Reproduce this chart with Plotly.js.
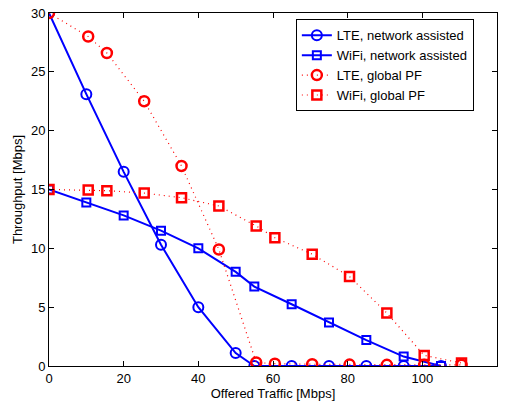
<!DOCTYPE html>
<html>
<head>
<meta charset="utf-8">
<script src="https://cdn.plot.ly/plotly-3.0.1.min.js"></script>
<style>html,body{margin:0;padding:0;background:#fff;}#chart{width:507px;height:405px;}</style>
</head>
<body>
<div id="chart"></div>
<script>
const lteNaX = [0, 10, 20, 30, 40, 50, 55, 65, 75, 85, 95, 105];
const lteNaY = [30, 23.1, 16.5, 10.3, 5.0, 1.1, 0, 0, 0, 0, 0, 0];
const wifiNaX = [0, 10, 20, 30, 40, 50, 55, 65, 75, 85, 95, 105];
const wifiNaY = [15, 13.9, 12.8, 11.5, 10.0, 8.0, 6.75, 5.25, 3.7, 2.2, 0.8, 0];
const pfX = [0, 10.5, 15.5, 25.5, 35.5, 45.5, 55.5, 60.5, 70.5, 80.5, 90.5, 100.5, 110.5];
const ltePfY = [30, 28.0, 26.6, 22.5, 17.0, 9.9, 0.3, 0.2, 0.15, 0.12, 0.1, 0.1, 0.1];
const wifiPfY = [15, 14.95, 14.9, 14.7, 14.3, 13.6, 11.9, 10.9, 9.5, 7.6, 4.5, 0.9, 0.25];
const names = ['LTE, network assisted', 'WiFi, network assisted', 'LTE, global PF', 'WiFi, global PF'];

const blue = '#0000ff', red = '#ff0000';
const FONT = 'Liberation Sans, Arial, Helvetica, sans-serif';
const traces = [
  {x: lteNaX, y: lteNaY, name: names[0], mode: 'lines+markers',
   line: {color: blue, width: 2},
   marker: {symbol: 'circle-open', size: 10, color: blue, line: {width: 2, color: blue}}},
  {x: wifiNaX, y: wifiNaY, name: names[1], mode: 'lines+markers',
   line: {color: blue, width: 2},
   marker: {symbol: 'square-open', size: 8, color: blue, line: {width: 2, color: blue}}},
  {x: pfX, y: ltePfY, name: names[2], mode: 'lines+markers',
   line: {color: red, width: 1.2, dash: '1px,4px'},
   marker: {symbol: 'circle-open', size: 10, color: red, line: {width: 2.5, color: red}}},
  {x: pfX, y: wifiPfY, name: names[3], mode: 'lines+markers',
   line: {color: red, width: 1.2, dash: '1px,4px'},
   marker: {symbol: 'square-open', size: 9, color: red, line: {width: 2.5, color: red}}}
];

const axisCommon = {
  showline: true, linecolor: '#000', linewidth: 1, mirror: 'ticks',
  ticks: 'inside', ticklen: 5, tickcolor: '#000', tickwidth: 1,
  showgrid: false, zeroline: false,
  tickfont: {family: FONT, size: 13, color: '#000'}
};

const layout = {
  width: 507, height: 405,
  margin: {l: 49, r: 10, t: 13, b: 39},
  paper_bgcolor: '#fff', plot_bgcolor: '#fff',
  font: {family: FONT, size: 13, color: '#000'},
  xaxis: Object.assign({}, axisCommon, {
    range: [0, 120], tickvals: [0, 20, 40, 60, 80, 100, 120],
    title: {text: 'Offered Traffic [Mbps]', font: {size: 13}, standoff: 3}
  }),
  yaxis: Object.assign({}, axisCommon, {
    range: [0, 30], tickvals: [0, 5, 10, 15, 20, 25, 30],
    title: {text: 'Throughput [Mbps]', font: {size: 13}, standoff: 5}
  }),
  showlegend: true,
  legend: {
    x: 0.551, y: 0.982, xanchor: 'left', yanchor: 'top',
    bordercolor: '#000', borderwidth: 1, bgcolor: '#fff',
    font: {size: 13}, tracegroupgap: 0
  }
};

Plotly.newPlot('chart', traces, layout, {displayModeBar: false, staticPlot: true});
</script>
</body>
</html>
